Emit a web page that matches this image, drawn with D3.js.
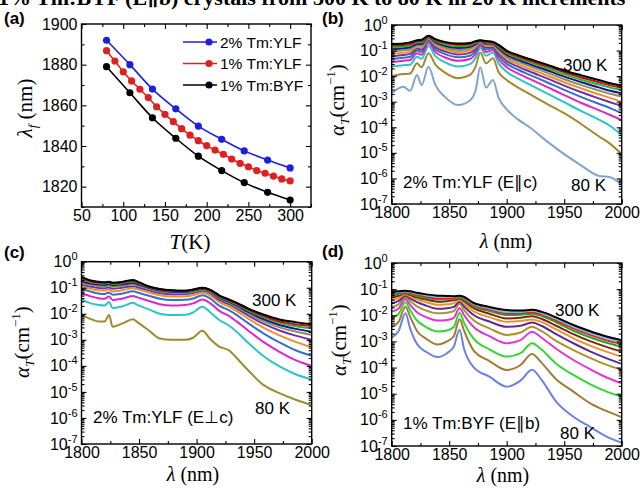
<!DOCTYPE html>
<html>
<head>
<meta charset="utf-8">
<script src="https://cdn.jsdelivr.net/npm/d3@7"></script>
<style>
  body { margin: 0; background: #fff; }
  svg { display: block; }
  text { fill: #000; }
</style>
</head>
<body>
<script>
const width = 641;
const height = 494;

// ---- panel (a): fluorescence wavelength vs temperature ----
const tempsCoarse = [80, 108, 135, 163, 190, 218, 245, 273, 300];
const tempsFine = [80, 90, 100, 110, 120, 130, 140, 150, 160, 170, 180, 190, 200, 210, 220, 230, 240, 250, 260, 270, 280, 290, 300];
const lamYLF2 = [1892, 1880, 1868, 1858.3, 1849.8, 1843.3, 1837.6, 1833.1, 1829.2];
const lamYLF1 = [1886.9, 1881.8, 1876.5, 1872, 1867.9, 1863.8, 1859.3, 1855.6, 1852, 1848.5, 1845.3, 1842.6, 1840.2, 1838, 1835.9, 1833.6, 1831.5, 1829.8, 1827.9, 1826.6, 1825.2, 1823.8, 1822.8];
const lamBYF1 = [1879, 1866.2, 1853.9, 1843.8, 1835, 1827.9, 1822, 1817.2, 1813.4];
const legendNames = ["2% Tm:YLF", "1% Tm:YLF", "1% Tm:BYF"];

// ---- spectra: log10 of alpha, one row per temperature (300 K first) ----
const wlB = [1800, 1810, 1816, 1822, 1826, 1832, 1838, 1846, 1858, 1868, 1873, 1877, 1882, 1888, 1893, 1900, 1910, 1920, 1935, 1950, 1965, 1980, 1990, 2000];
const logB = [
  [-0.74,-0.72,-0.68,-0.6,-0.58,-0.42,-0.55,-0.66,-0.72,-0.7,-0.63,-0.6,-0.63,-0.66,-0.78,-1.0,-1.18,-1.33,-1.55,-1.78,-1.97,-2.15,-2.28,-2.37],
  [-0.8,-0.78,-0.74,-0.64,-0.63,-0.43,-0.58,-0.7,-0.77,-0.74,-0.66,-0.61,-0.65,-0.68,-0.82,-1.05,-1.23,-1.39,-1.61,-1.85,-2.05,-2.24,-2.36,-2.45],
  [-0.87,-0.84,-0.8,-0.68,-0.68,-0.45,-0.62,-0.75,-0.83,-0.79,-0.7,-0.62,-0.68,-0.7,-0.86,-1.1,-1.29,-1.45,-1.68,-1.93,-2.14,-2.33,-2.45,-2.54],
  [-0.95,-0.91,-0.87,-0.74,-0.74,-0.47,-0.67,-0.81,-0.9,-0.85,-0.75,-0.63,-0.72,-0.73,-0.91,-1.17,-1.36,-1.53,-1.77,-2.02,-2.24,-2.44,-2.57,-2.67],
  [-1.04,-0.99,-0.95,-0.8,-0.81,-0.5,-0.73,-0.88,-0.98,-0.92,-0.8,-0.65,-0.77,-0.76,-0.97,-1.24,-1.44,-1.61,-1.86,-2.12,-2.35,-2.56,-2.69,-2.8],
  [-1.13,-1.08,-1.04,-0.86,-0.88,-0.53,-0.79,-0.95,-1.06,-1.0,-0.86,-0.67,-0.82,-0.8,-1.04,-1.32,-1.53,-1.71,-1.97,-2.24,-2.48,-2.71,-2.85,-3.0],
  [-1.22,-1.17,-1.13,-0.92,-0.96,-0.57,-0.86,-1.03,-1.15,-1.09,-0.93,-0.7,-0.88,-0.85,-1.12,-1.41,-1.63,-1.82,-2.09,-2.37,-2.63,-2.87,-3.02,-3.17],
  [-1.33,-1.28,-1.24,-1.0,-1.05,-0.62,-0.95,-1.13,-1.26,-1.2,-1.01,-0.74,-0.96,-0.9,-1.22,-1.52,-1.75,-1.95,-2.24,-2.54,-2.82,-3.08,-3.25,-3.45],
  [-1.45,-1.4,-1.37,-1.1,-1.16,-0.7,-1.06,-1.26,-1.4,-1.33,-1.12,-0.8,-1.06,-0.98,-1.34,-1.65,-1.9,-2.11,-2.42,-2.74,-3.05,-3.33,-3.52,-3.72],
  [-1.62,-1.57,-1.55,-1.24,-1.32,-0.82,-1.22,-1.45,-1.62,-1.53,-1.28,-0.9,-1.2,-1.08,-1.5,-1.83,-2.1,-2.33,-2.67,-3.02,-3.37,-3.7,-3.95,-4.3],
  [-2.0,-1.92,-1.9,-1.5,-1.65,-1.1,-1.55,-1.85,-2.08,-1.95,-1.62,-1.08,-1.5,-1.3,-1.85,-2.15,-2.45,-2.7,-3.08,-3.45,-3.88,-4.35,-4.65,-5.05],
  [-2.67,-2.41,-2.57,-1.96,-2.35,-1.63,-2.35,-2.8,-3.13,-2.95,-2.55,-1.65,-2.45,-2.15,-2.85,-3.3,-3.7,-4.0,-4.55,-5.05,-5.5,-5.9,-5.95,-6.25]
];
const colorsB = ["#000000", "#b81414", "#2cb42c", "#16168a", "#8e8e62", "#e8922c", "#7430a4", "#3470c4", "#e026c4", "#2cc4c4", "#a08a2c", "#82a4cc"];

const wlC = [1800, 1808, 1815, 1820, 1824, 1827, 1835, 1845, 1848, 1858, 1868, 1878, 1890, 1897, 1905, 1912, 1920, 1928, 1935, 1945, 1958, 1972, 1986, 2000];
const logC = [
  [-0.58,-0.72,-0.77,-0.79,-0.77,-0.81,-0.78,-0.7,-0.75,-0.94,-1.05,-1.1,-1.12,-1.07,-1.0,-1.08,-1.3,-1.45,-1.58,-1.8,-2.03,-2.22,-2.32,-2.4],
  [-0.63,-0.75,-0.8,-0.81,-0.79,-0.83,-0.79,-0.73,-0.78,-0.95,-1.06,-1.11,-1.12,-1.08,-1.01,-1.09,-1.32,-1.47,-1.61,-1.84,-2.08,-2.29,-2.4,-2.47],
  [-0.68,-0.79,-0.83,-0.84,-0.81,-0.86,-0.82,-0.76,-0.8,-0.96,-1.07,-1.12,-1.13,-1.09,-1.02,-1.1,-1.35,-1.5,-1.64,-1.88,-2.13,-2.35,-2.48,-2.56],
  [-0.74,-0.84,-0.88,-0.89,-0.86,-0.9,-0.87,-0.81,-0.85,-0.99,-1.1,-1.15,-1.15,-1.11,-1.04,-1.13,-1.38,-1.53,-1.68,-1.93,-2.2,-2.43,-2.58,-2.69],
  [-0.8,-0.89,-0.94,-0.95,-0.92,-0.96,-0.93,-0.87,-0.9,-1.03,-1.14,-1.19,-1.19,-1.15,-1.07,-1.17,-1.42,-1.57,-1.73,-1.99,-2.28,-2.52,-2.68,-2.81],
  [-0.88,-0.96,-1.01,-1.02,-0.99,-1.04,-1.0,-0.94,-0.97,-1.09,-1.2,-1.25,-1.24,-1.2,-1.12,-1.22,-1.48,-1.63,-1.8,-2.07,-2.38,-2.64,-2.84,-3.0],
  [-0.95,-1.04,-1.1,-1.11,-1.07,-1.14,-1.1,-1.02,-1.05,-1.17,-1.29,-1.34,-1.33,-1.29,-1.19,-1.3,-1.56,-1.72,-1.9,-2.19,-2.53,-2.83,-3.08,-3.29],
  [-1.05,-1.15,-1.22,-1.24,-1.18,-1.27,-1.23,-1.13,-1.17,-1.3,-1.42,-1.47,-1.46,-1.41,-1.29,-1.42,-1.7,-1.86,-2.05,-2.37,-2.75,-3.1,-3.4,-3.61],
  [-1.2,-1.33,-1.4,-1.42,-1.34,-1.47,-1.42,-1.32,-1.36,-1.5,-1.63,-1.68,-1.66,-1.6,-1.45,-1.6,-1.9,-2.08,-2.3,-2.65,-3.08,-3.46,-3.78,-4.0],
  [-1.45,-1.6,-1.66,-1.68,-1.55,-1.78,-1.72,-1.58,-1.65,-1.82,-2.0,-2.05,-2.04,-1.95,-1.73,-1.95,-2.25,-2.45,-2.7,-3.12,-3.62,-4.02,-4.32,-4.52],
  [-2.05,-2.2,-2.3,-2.3,-2.05,-2.5,-2.38,-2.21,-2.3,-2.62,-2.95,-3.0,-3.0,-2.92,-2.65,-2.98,-3.27,-3.4,-3.71,-4.18,-4.73,-5.05,-5.3,-5.5]
];
const colorsC = ["#000000", "#b81414", "#2cb42c", "#16168a", "#8e8e62", "#7430a4", "#e8922c", "#3470c4", "#e026c4", "#2cc4c4", "#a08a2c"];

const wlD = [1800, 1806, 1812, 1816, 1822, 1830, 1840, 1848, 1854, 1859, 1863, 1871, 1885, 1900, 1912, 1922, 1930, 1943, 1958, 1972, 1986, 2000];
const logD = [
  [-1.1,-1.08,-1.06,-1.08,-1.14,-1.2,-1.25,-1.26,-1.27,-1.25,-1.3,-1.52,-1.68,-1.8,-1.82,-1.79,-1.86,-2.08,-2.37,-2.6,-2.8,-2.95],
  [-1.14,-1.11,-1.08,-1.11,-1.17,-1.24,-1.3,-1.3,-1.3,-1.27,-1.33,-1.56,-1.73,-1.87,-1.87,-1.83,-1.91,-2.14,-2.44,-2.67,-2.87,-3.01],
  [-1.19,-1.15,-1.1,-1.14,-1.21,-1.29,-1.35,-1.34,-1.33,-1.29,-1.36,-1.6,-1.78,-1.93,-1.92,-1.88,-1.96,-2.2,-2.5,-2.74,-2.95,-3.1],
  [-1.25,-1.2,-1.13,-1.18,-1.26,-1.34,-1.4,-1.39,-1.37,-1.32,-1.4,-1.65,-1.84,-1.99,-1.98,-1.94,-2.02,-2.27,-2.59,-2.83,-3.04,-3.2],
  [-1.31,-1.25,-1.16,-1.22,-1.31,-1.4,-1.48,-1.46,-1.43,-1.36,-1.46,-1.72,-1.94,-2.12,-2.09,-2.04,-2.13,-2.4,-2.72,-2.98,-3.2,-3.39],
  [-1.42,-1.34,-1.2,-1.28,-1.39,-1.5,-1.6,-1.58,-1.54,-1.42,-1.55,-1.84,-2.07,-2.25,-2.22,-2.16,-2.25,-2.54,-2.88,-3.15,-3.38,-3.58],
  [-1.54,-1.45,-1.25,-1.35,-1.5,-1.63,-1.75,-1.73,-1.68,-1.48,-1.66,-1.98,-2.24,-2.44,-2.4,-2.28,-2.4,-2.72,-3.07,-3.37,-3.63,-3.86],
  [-1.69,-1.58,-1.3,-1.45,-1.66,-1.82,-1.92,-1.9,-1.84,-1.55,-1.8,-2.18,-2.5,-2.75,-2.66,-2.44,-2.6,-2.98,-3.33,-3.62,-3.88,-4.09],
  [-1.86,-1.74,-1.38,-1.6,-1.88,-2.07,-2.2,-2.18,-2.1,-1.72,-2.0,-2.44,-2.8,-3.07,-2.95,-2.63,-2.85,-3.28,-3.71,-4.05,-4.36,-4.6],
  [-2.1,-1.95,-1.5,-1.8,-2.2,-2.45,-2.62,-2.58,-2.45,-1.9,-2.3,-2.88,-3.3,-3.58,-3.45,-3.07,-3.3,-3.85,-4.28,-4.62,-4.9,-5.11],
  [-2.44,-2.25,-1.67,-2.05,-2.6,-2.9,-3.12,-3.0,-2.8,-2.15,-2.6,-3.33,-3.75,-4.09,-3.9,-3.48,-3.8,-4.45,-4.92,-5.35,-5.65,-5.9],
  [-2.85,-2.6,-1.92,-2.5,-3.1,-3.4,-3.6,-3.45,-3.2,-2.55,-3.3,-3.97,-4.35,-4.73,-4.5,-4.08,-4.45,-5.3,-5.88,-6.26,-6.62,-6.87]
];
const colorsD = ["#000000", "#82b2e2", "#e02424", "#24a424", "#7e2414", "#ea922c", "#5c2c94", "#aa922e", "#e234d2", "#34d634", "#a27c32", "#6c82e2"];

const wlTicks = [1800, 1850, 1900, 1950, 2000];
const decades = [0, -1, -2, -3, -4, -5, -6, -7];

const sans = "'Liberation Sans', Arial, sans-serif";
const serif = "'Liberation Serif', 'DejaVu Serif', serif";

let svg = d3.select("body").append("svg")
    .attr("width", width)
    .attr("height", height)
    .style("font-family", sans);

// cropped caption line at the very top
svg.append("text")
    .attr("x", -2).attr("y", 5)
    .style("font-family", serif)
    .style("font-weight", "bold")
    .style("font-size", "22px")
    .text("1% Tm:BYF (E\u2225b) crystals from 300 K to 80 K in 20 K increments");

function frame(box, x, y, xMajor, xMinor, yMajor, yMinor, yFmt) {
    let g = svg.append("g");
    const X0 = box.x0, X1 = box.x1, Y0 = box.y0, Y1 = box.y1;

    let add = (axis, tr, vals, size, fmt, pad) => {
        let a = g.append("g").attr("transform", tr)
            .call(axis.tickValues(vals).tickSize(size).tickSizeOuter(0).tickPadding(pad || 4).tickFormat(fmt));
        a.select(".domain").remove();
        a.selectAll("line").attr("stroke", "#000").attr("stroke-width", 1.1);
        return a;
    };

    let bx = add(d3.axisBottom(x), `translate(0,${Y1})`, xMajor, -5, d3.format("d"), 3);
    bx.selectAll("text").style("font-size", "16px").style("font-family", sans).attr("fill", "#000");
    add(d3.axisBottom(x), `translate(0,${Y1})`, xMinor, -3, () => "");
    add(d3.axisTop(x), `translate(0,${Y0})`, xMajor, -5, () => "");
    add(d3.axisTop(x), `translate(0,${Y0})`, xMinor, -3, () => "");

    let ly = add(d3.axisLeft(y), `translate(${X0},0)`, yMajor, -5, yFmt ? () => "" : d3.format("d"));
    ly.selectAll("text").style("font-size", "16px").style("font-family", sans).attr("fill", "#000");
    if (yFmt) ly.selectAll(".tick text").each(yFmt);
    add(d3.axisLeft(y), `translate(${X0},0)`, yMinor, -3, () => "");
    add(d3.axisRight(y), `translate(${X1},0)`, yMajor, -5, () => "");
    add(d3.axisRight(y), `translate(${X1},0)`, yMinor, -3, () => "");

    g.append("rect")
        .attr("x", X0).attr("y", Y0)
        .attr("width", X1 - X0).attr("height", Y1 - Y0)
        .attr("fill", "none").attr("stroke", "#000").attr("stroke-width", 1.4);
    return g;
}

function panelLabel(txt, px, py) {
    svg.append("text").attr("x", px).attr("y", py)
        .style("font-size", "17px").style("font-weight", "bold").text(txt);
}

function note(txt, px, py) {
    svg.append("text").attr("x", px).attr("y", py)
        .style("font-size", "17px").text(txt);
}

function yTitleAlpha(cx, cy) {
    let t = svg.append("text")
        .attr("transform", `translate(${cx},${cy}) rotate(-90)`)
        .attr("text-anchor", "middle")
        .attr("dy", "0.35em")
        .style("font-family", serif).style("font-size", "21px");
    t.append("tspan").style("font-style", "italic").text("\u03b1");
    t.append("tspan").style("font-style", "italic").style("font-size", "13px").attr("dy", 5).text("T");
    t.append("tspan").attr("dy", -5).text("(cm");
    t.append("tspan").style("font-size", "13px").attr("dy", -9).text("\u22121");
    t.append("tspan").attr("dy", 9).text(")");
}

function xTitleLambda(cx, by) {
    let t = svg.append("text").attr("x", cx).attr("y", by)
        .attr("text-anchor", "middle")
        .style("font-family", serif).style("font-size", "20px");
    t.append("tspan").style("font-style", "italic").text("\u03bb");
    t.append("tspan").text(" (nm)");
}

// ---------------- panel (a) ----------------
{
    const box = { x0: 81.5, x1: 311, y0: 24, y1: 207 };
    let x = d3.scaleLinear().domain([50, 325]).range([box.x0, box.x1]);
    let y = d3.scaleLinear().domain([1810, 1900]).range([box.y1, box.y0]);
    frame(box, x, y, d3.range(50, 301, 50), d3.range(75, 326, 50),
        d3.range(1820, 1901, 20), d3.range(1810, 1901, 20), null);

    const series = [
        { t: tempsCoarse, v: lamYLF2, c: "#1f1fe0" },
        { t: tempsFine, v: lamYLF1, c: "#e01f1f" },
        { t: tempsCoarse, v: lamBYF1, c: "#000000" }
    ];
    let line = d3.line().x(d => x(d[0])).y(d => y(d[1])).curve(d3.curveMonotoneX);
    series.forEach(s => {
        let pts = s.t.map((tt, i) => [tt, s.v[i]]);
        svg.append("path").datum(pts)
            .attr("d", line).attr("fill", "none")
            .attr("stroke", s.c).attr("stroke-width", 1.6);
        svg.append("g").selectAll("circle").data(pts).enter()
            .append("circle")
            .attr("cx", d => x(d[0])).attr("cy", d => y(d[1]))
            .attr("r", 3.6).attr("fill", s.c);
    });

    // legend
    legendNames.forEach((name, i) => {
        const ly = 42 + i * 21.5;
        svg.append("line").attr("x1", 183).attr("x2", 217).attr("y1", ly).attr("y2", ly)
            .attr("stroke", series[i].c).attr("stroke-width", 1.6);
        svg.append("circle").attr("cx", 209).attr("cy", ly).attr("r", 3.6).attr("fill", series[i].c);
        svg.append("text").attr("x", 220).attr("y", ly + 5.5)
            .style("font-size", "15.5px").text(name);
    });

    panelLabel("(a)", 4, 24);

    let yt = svg.append("text")
        .attr("transform", "translate(25,108) rotate(-90)")
        .attr("text-anchor", "middle").attr("dy", "0.35em")
        .style("font-family", serif).style("font-size", "21px");
    yt.append("tspan").style("font-style", "italic").text("\u03bb");
    yt.append("tspan").style("font-style", "italic").style("font-size", "13px").attr("dy", 5).text("f");
    yt.append("tspan").attr("dy", -5).text(" (nm)");

    let xt = svg.append("text").attr("x", 190).attr("y", 249)
        .attr("text-anchor", "middle")
        .style("font-family", serif).style("font-size", "21px");
    xt.append("tspan").style("font-style", "italic").text("T");
    xt.append("tspan").text("(K)");
}

// ---------------- spectra panels ----------------
function spectrum(box, wl, rows, colors, id) {
    let x = d3.scaleLinear().domain([1800, 2000]).range([box.x0, box.x1]);
    let y = d3.scaleLog().domain([1e-7, 1]).range([box.y1, box.y0]);

    let minor = [];
    for (let k = -7; k < 0; k++) for (let m = 2; m <= 9; m++) minor.push(m * Math.pow(10, k));

    const supFmt = function (d) {
        let e = Math.round(Math.log10(d));
        let t = d3.select(this).text("10");
        t.append("tspan").attr("dy", -7).style("font-size", "11px").text(e === 0 ? "0" : "-" + Math.abs(e));
    };

    svg.append("clipPath").attr("id", id).append("rect")
        .attr("x", box.x0).attr("y", box.y0)
        .attr("width", box.x1 - box.x0).attr("height", box.y1 - box.y0);

    let line = d3.line().x(d => x(d[0])).y(d => y(d[1])).curve(d3.curveMonotoneX);
    let g = svg.append("g").attr("clip-path", `url(#${id})`);
    // draw coldest first so the 300 K curve ends on top
    rows.slice().reverse().forEach((row, ri) => {
        const i = rows.length - 1 - ri;
        let pts = wl.map((w, j) => [w, Math.pow(10, row[j])]);
        g.append("path").datum(pts)
            .attr("d", line).attr("fill", "none")
            .attr("stroke", colors[i]).attr("stroke-width", 2)
            .attr("stroke-linejoin", "round");
    });

    frame(box, x, y, wlTicks, [1825, 1875, 1925, 1975],
        decades.map(e => Math.pow(10, e)), minor, supFmt);
}

// (b)
{
    const box = { x0: 391.7, x1: 621.7, y0: 25, y1: 204 };
    spectrum(box, wlB, logB, colorsB, "clipB");
    panelLabel("(b)", 322, 24);
    yTitleAlpha(337, 100);
    xTitleLambda(506, 248);
    note("300 K", 563, 71);
    note("80 K", 571, 191);
    note("2% Tm:YLF (E\u2225c)", 403, 188);
}

// (c)
{
    const box = { x0: 81.5, x1: 311.7, y0: 261.7, y1: 444 };
    spectrum(box, wlC, logC, colorsC, "clipC");
    panelLabel("(c)", 4, 258);
    yTitleAlpha(22, 342);
    xTitleLambda(193, 481);
    note("300 K", 252, 306);
    note("80 K", 255, 414);
    note("2% Tm:YLF (E\u22a5c)", 93, 423);
}

// (d)
{
    const box = { x0: 391.7, x1: 621.7, y0: 263, y1: 446 };
    spectrum(box, wlD, logD, colorsD, "clipD");
    panelLabel("(d)", 322, 257);
    yTitleAlpha(339, 340);
    xTitleLambda(503, 482);
    note("300 K", 555, 316);
    note("80 K", 560, 439);
    note("1% Tm:BYF (E\u2225b)", 403, 429);
}
</script>
</body>
</html>
